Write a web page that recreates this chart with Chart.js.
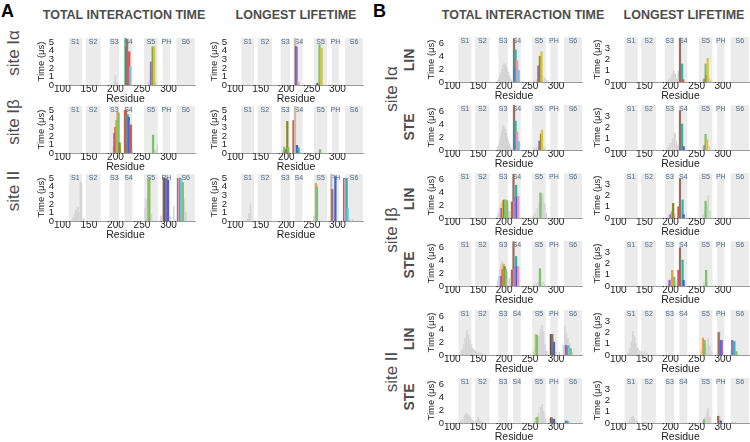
<!DOCTYPE html>
<html>
<head>
<meta charset="utf-8">
<script src="https://cdn.jsdelivr.net/npm/chart.js@4.4.0/dist/chart.umd.min.js"></script>
<style>
  body { margin: 0; width: 750px; height: 442px; overflow: hidden; background: #fff; position: relative;
         font-family: 'Liberation Sans', Arial, sans-serif; }
  canvas { position: absolute; }
  .t { position: absolute; color: #4d4d4d; white-space: nowrap; line-height: 1; }
  .hd { font-weight: bold; font-size: 12.5px; transform: translateX(-50%); }
  .site { font-size: 17px; transform: translate(-50%, -50%) rotate(-90deg); }
  .sub { font-size: 14px; font-weight: bold; transform: translate(-50%, -50%) rotate(-90deg); }
  .pl { font-size: 18px; font-weight: bold; color: #000; }
</style>
</head>
<body>
<div class="t pl" style="left:1px;top:2px">A</div>
<div class="t pl" style="left:373px;top:2px">B</div>
<div class="t hd" style="left:124px;top:9px">TOTAL INTERACTION TIME</div>
<div class="t hd" style="left:296px;top:9px">LONGEST LIFETIME</div>
<div class="t hd" style="left:523px;top:9px">TOTAL INTERACTION TIME</div>
<div class="t hd" style="left:684px;top:9px">LONGEST LIFETIME</div>

<div class="t site" style="left:13px;top:53px">site Iα</div>
<div class="t site" style="left:13px;top:122px">site Iβ</div>
<div class="t site" style="left:13px;top:191px">site II</div>

<div class="t site" style="left:391px;top:89px">site Iα</div>
<div class="t site" style="left:391px;top:230px">site Iβ</div>
<div class="t site" style="left:391px;top:372px">site II</div>
<div class="t sub" style="left:409px;top:60px">LIN</div>
<div class="t sub" style="left:409px;top:127px">STE</div>
<div class="t sub" style="left:409px;top:199px">LIN</div>
<div class="t sub" style="left:409px;top:265px">STE</div>
<div class="t sub" style="left:409px;top:339px">LIN</div>
<div class="t sub" style="left:409px;top:397px">STE</div>

<script>
// axis ticks and helix regions
const xTicks = [100, 150, 200, 250, 300];
const yTicksA = [0, 1, 2, 3, 4, 5];
const yTicksB1 = [0, 2, 4, 6];
const yTicksB2 = [0, 1, 2, 3];
const bands = [['S1', 112, 137], ['S2', 144, 172], ['S3', 189, 207], ['S4', 217, 232],
               ['S5', 254, 280], ['PH', 289, 303], ['S6', 315, 350]];

// lipid keys -> colour (bars are [residue, value, lipid])
const lipidColors = {
  r: '#d9534f', g: '#79c36a', b: '#4460d8', p: '#9068c0', c: '#2fb5a8', y: '#d8c43c',
  o: '#8a8a1e', n: '#e8a040', t: '#9a7060', k: '#cbbba9', i: '#e79aaa', l: '#6cc6e8',
  d: '#5a5a5a', m: '#c05aa0'
};

// ---- panel A, total interaction time ----
const A_tot_Ia_gray = [[198,0.4],[200,1.1],[203,0.3],[225,0.5],[262,0.3],[265,0.6],[276,0.3]];
const A_tot_Ia = [[219,5.5,'c'],[220,4.8,'g'],[221,4.5,'d'],[222,5.3,'t'],[226,3.9,'r'],[228,2.2,'l'],
                  [267,2.7,'p'],[270,4.5,'g'],[272,4.3,'o'],[273,4.5,'y']];
const A_tot_Ib_gray = [[196,0.8],[210,0.5],[232,0.4],[275,0.4],[279,1.0]];
const A_tot_Ib = [[198,2.3,'p'],[200,3.0,'r'],[202,3.8,'g'],[204,4.8,'n'],[206,4.7,'g'],[208,1.2,'o'],
                  [218,5.0,'r'],[220,5.0,'t'],[223,4.5,'c'],[225,4.2,'b'],[229,3.3,'r'],[271,2.1,'g']];
const A_tot_II_gray = [[120,0.4],[123,0.8],[125,1.3],[127,1.0],[129,1.6],[131,1.0],[134,4.6],[136,4.4],
                       [140,0.3],[256,1.5],[258,2.5],[268,0.8],[286,0.6],[303,0.5],[310,1.7],[330,2.5],[333,1.0]];
const A_tot_II = [[262,4.9,'n'],[264,5.0,'g'],[291,5.0,'t'],[293,5.0,'d'],[296,5.0,'p'],[299,4.8,'b'],
                  [318,5.0,'p'],[320,5.0,'i'],[322,5.0,'c'],[324,4.9,'l'],[327,4.5,'g']];

// ---- panel A, longest lifetime ----
const A_ll_Ia_gray = [[225,0.3],[262,0.2],[266,0.6]];
const A_ll_Ia = [[217,5.5,'k'],[219,4.5,'b'],[220,4.4,'p'],[223,0.3,'i'],[261,0.2,'d'],[265,4.7,'g'],[269,4.3,'y']];
const A_ll_Ib_gray = [[192,0.3],[226,0.2],[265,0.4]];
const A_ll_Ib = [[196,0.7,'g'],[199,0.4,'p'],[202,3.7,'o'],[204,0.6,'g'],[214,3.8,'r'],[217,5.5,'k'],
                 [221,0.9,'b'],[224,0.6,'c'],[266,0.4,'g']];
const A_ll_II_gray = [[124,0.2],[127,0.9],[130,1.9],[254,0.6],[324,0.2],[330,0.2]];
const A_ll_II = [[258,4.4,'n'],[260,4.0,'g'],[288,5.5,'k'],[290,3.7,'t'],[296,5.2,'b'],
                 [313,5.0,'p'],[315,4.9,'i'],[318,5.0,'c'],[320,1.5,'l']];

// ---- panel B, total interaction time ----
const B_tot_Ia_LIN_gray = [[188,0.3],[190,0.6],[192,1.0],[194,1.5],[196,2.0],[198,2.6],[200,2.9],[202,2.8],
                           [204,2.5],[206,2.0],[208,1.5],[210,1.0],[212,0.6],[214,0.3],[258,0.2],[262,0.4],
                           [266,0.7],[270,0.9],[274,1.0],[278,0.6],[282,0.3]];
const B_tot_Ia_LIN = [[219,6.7,'t'],[221,2.2,'b'],[222,5.0,'c'],[225,3.3,'i'],[228,1.8,'l'],
                      [266,2.5,'p'],[269,4.0,'o'],[272,4.7,'y']];
const B_tot_Ia_STE_gray = [[188,0.4],[190,0.8],[192,1.4],[194,2.2],[196,3.0],[198,3.8],[200,3.6],[202,3.2],
                           [204,2.6],[206,2.0],[208,1.4],[210,0.9],[212,0.5],[214,0.2],[258,0.2],[262,0.4],
                           [266,0.6],[270,0.8],[274,0.7],[278,0.4]];
const B_tot_Ia_STE = [[219,7.0,'t'],[221,2.6,'b'],[222,4.5,'c'],[225,2.8,'i'],[228,1.3,'l'],
                      [268,1.4,'p'],[271,2.5,'o'],[273,3.1,'y']];
const B_tot_Ib_LIN_gray = [[188,0.5],[190,1.0],[192,1.6],[194,2.2],[196,2.6],[198,2.7],[202,2.6],[206,2.0],
                           [210,1.0],[214,0.5],[256,0.3],[260,0.8],[264,1.5],[268,2.4],[272,3.4],[275,3.8],
                           [278,2.2],[281,0.8]];
const B_tot_Ib_LIN = [[195,1.5,'p'],[198,2.7,'n'],[200,2.8,'r'],[202,2.8,'g'],[204,2.7,'n'],[206,2.7,'g'],
                      [215,2.5,'r'],[218,6.8,'t'],[220,2.6,'i'],[222,3.2,'p'],[223,5.1,'c'],[225,3.2,'b'],
                      [227,3.4,'i'],[270,3.9,'g']];
const B_tot_Ib_STE_gray = [[188,0.8],[190,1.6],[192,2.6],[194,3.4],[196,3.8],[198,3.5],[202,3.0],[206,2.2],
                           [210,1.2],[214,0.5],[258,0.2],[262,0.4],[266,0.6],[270,0.8],[274,0.6],[278,0.3]];
const B_tot_Ib_STE = [[194,1.5,'p'],[197,2.6,'r'],[199,3.4,'n'],[201,3.0,'o'],[203,2.6,'g'],
                      [215,2.5,'r'],[218,6.9,'t'],[220,2.6,'i'],[222,3.1,'p'],[223,4.6,'c'],[225,3.0,'b'],
                      [227,3.0,'i'],[269,2.7,'g']];
const B_tot_II_LIN_gray = [[116,0.3],[119,0.8],[122,1.6],[125,2.6],[128,3.8],[131,3.2],[134,2.4],[137,1.6],
                           [140,1.0],[143,0.7],[146,0.5],[150,0.4],[154,0.3],[158,0.2],[256,0.5],[260,1.2],
                           [264,2.0],[267,3.0],[270,4.0],[273,4.6],[276,3.6],[279,1.6],[282,0.6],[300,0.4],
                           [306,0.5],[314,1.5],[317,4.5],[320,3.4],[323,2.6],[326,1.8],[329,1.0],[332,0.5]];
const B_tot_II_LIN = [[261,3.2,'y'],[263,3.1,'g'],[290,3.2,'d'],[293,3.2,'t'],[296,2.0,'b'],
                      [319,1.5,'p'],[321,1.0,'m'],[323,1.4,'c'],[325,1.2,'l'],[328,1.0,'g']];
const B_tot_II_STE_gray = [[116,0.2],[120,0.6],[124,1.2],[127,1.5],[130,1.4],[133,1.1],[136,0.7],[140,0.4],
                           [145,0.3],[150,0.9],[153,0.5],[158,0.2],[258,0.3],[262,0.8],[266,1.5],[270,2.4],
                           [273,2.9],[276,1.8],[279,0.6],[300,0.2],[316,0.3],[320,0.4],[326,0.2]];
const B_tot_II_STE = [[262,0.8,'y'],[264,0.9,'g'],[290,0.8,'d'],[292,0.8,'t'],[296,0.6,'b'],
                      [319,0.3,'p'],[322,0.3,'c']];

// ---- panel B, longest lifetime ----
const B_ll_Ia_LIN_gray = [[196,0.2],[200,0.4],[203,0.7],[206,1.0],[209,0.7],[212,0.3],[215,1.0],
                          [262,0.2],[266,0.3],[274,0.4],[277,0.2]];
const B_ll_Ia_LIN = [[218,3.9,'t'],[222,1.6,'c'],[224,0.2,'r'],[265,0.3,'p'],[267,1.6,'g'],[269,0.6,'o'],[271,2.1,'y']];
const B_ll_Ia_STE_gray = [[196,0.3],[200,0.6],[204,1.0],[208,1.5],[211,0.8],[214,0.4],[263,0.2],[266,0.3],[274,0.3]];
const B_ll_Ia_STE = [[218,3.5,'t'],[222,2.3,'c'],[225,0.3,'b'],[265,0.4,'p'],[267,1.4,'g'],[270,0.9,'y']];
const B_ll_Ib_LIN_gray = [[196,0.2],[200,0.5],[204,0.8],[208,0.4],[262,0.3],[266,0.6],[270,1.2],[272,2.0],[275,0.6]];
const B_ll_Ib_LIN = [[200,0.3,'p'],[203,0.6,'n'],[205,1.3,'o'],[215,1.0,'r'],[218,3.5,'t'],[223,1.6,'c'],
                     [225,0.3,'b'],[267,1.5,'g']];
const B_ll_Ib_STE_gray = [[196,0.3],[200,0.6],[204,1.0],[210,0.4],[264,0.3],[270,0.4]];
const B_ll_Ib_STE = [[198,0.5,'p'],[203,1.4,'n'],[207,0.8,'g'],[215,1.4,'r'],[218,3.4,'t'],[223,2.3,'c'],
                     [225,0.5,'b'],[268,1.4,'g']];
const B_ll_II_LIN_gray = [[118,0.2],[122,0.6],[125,1.2],[128,2.1],[131,1.6],[134,1.0],[137,0.6],[141,0.4],
                          [145,0.3],[150,0.3],[155,0.2],[258,0.3],[268,0.9],[272,1.5],[275,0.8],[279,0.3],
                          [294,2.1],[316,0.4],[322,0.3]];
const B_ll_II_LIN = [[262,1.5,'n'],[265,1.3,'g'],[292,2.0,'t'],[296,1.3,'b'],[298,1.3,'p'],
                     [318,1.3,'p'],[322,1.2,'c'],[326,0.3,'g']];
const B_ll_II_STE_gray = [[122,0.3],[126,0.5],[128,0.6],[131,0.4],[135,0.2],[150,0.1],[262,0.2],[266,0.5],
                          [270,1.0],[272,1.3],[275,0.5],[294,0.6],[318,0.1],[324,0.1]];
const B_ll_II_STE = [[264,0.3,'g'],[291,0.6,'t'],[296,0.2,'b']];

// shaded helix regions with their labels
const bandPlugin = {
  id: 'bands',
  beforeDatasetsDraw(chart) {
    const { ctx, chartArea: a, scales: { x } } = chart;
    ctx.save();
    bands.forEach(([name, s, e]) => {
      const x0 = x.getPixelForValue(s);
      const x1 = Math.min(x.getPixelForValue(e), a.right);
      ctx.fillStyle = '#ebebeb';
      ctx.fillRect(x0, a.top, x1 - x0, a.bottom - a.top);
      ctx.fillStyle = '#4d6a84';
      ctx.font = '7px "Liberation Sans", Arial, sans-serif';
      ctx.textAlign = 'center';
      ctx.textBaseline = 'middle';
      ctx.fillText(name, (x0 + x1) / 2, a.top + 4.5);
    });
    ctx.restore();
  }
};

function plot(left, top, w, h, ymax, yTicks, gray, lip) {
  const ml = 20, mt = 8, mr = 2, mb = 20;
  const cv = document.createElement('canvas');
  cv.width = w + ml + mr;
  cv.height = h + mt + mb;
  cv.style.left = (left - ml) + 'px';
  cv.style.top = (top - mt) + 'px';
  document.body.appendChild(cv);

  new Chart(cv, {
    type: 'bar',
    data: {
      datasets: [
        {
          data: lip.map(d => ({ x: d[0], y: d[1] })),
          backgroundColor: lip.map(d => lipidColors[d[2]]),
          barThickness: 1.6, grouped: false, order: 0
        },
        {
          data: gray.map(d => ({ x: d[0], y: d[1] })),
          backgroundColor: '#d4d4d4',
          barThickness: 1, grouped: false, order: 1
        }
      ]
    },
    options: {
      responsive: false,
      animation: false,
      events: [],
      layout: { padding: { top: mt, right: mr, left: 0, bottom: 0 } },
      plugins: { legend: { display: false }, tooltip: { enabled: false } },
      scales: {
        x: {
          type: 'linear', min: 88, max: 350, offset: false,
          afterBuildTicks: s => { s.ticks = xTicks.map(v => ({ value: v })); },
          afterFit: s => { s.height = mb; },
          grid: { display: false, drawTicks: false },
          border: { display: true, color: '#9a9a9a' },
          ticks: { padding: -2, autoSkip: false, maxRotation: 0, color: '#222', font: { size: 10 } },
          title: { display: true, text: 'Residue', padding: 0, color: '#222', font: { size: 10.5 } }
        },
        y: {
          min: 0, max: ymax,
          afterBuildTicks: s => { s.ticks = yTicks.map(v => ({ value: v })); },
          afterFit: s => { s.width = ml; },
          grid: { display: false, drawTicks: false },
          border: { display: false },
          ticks: { padding: 2, autoSkip: false, color: '#222', font: { size: 9.5 } },
          title: { display: true, text: 'Time (\u03bcs)', padding: 0, color: '#222', font: { size: 9.5 } }
        }
      }
    },
    plugins: [bandPlugin]
  });
}

// panel A
const aTops = [38, 106, 174];
plot(56, aTops[0], 139, 47, 5.5, yTicksA, A_tot_Ia_gray, A_tot_Ia);
plot(56, aTops[1], 139, 47, 5.5, yTicksA, A_tot_Ib_gray, A_tot_Ib);
plot(56, aTops[2], 139, 47, 5.5, yTicksA, A_tot_II_gray, A_tot_II);
plot(229, aTops[0], 134, 47, 5.5, yTicksA, A_ll_Ia_gray, A_ll_Ia);
plot(229, aTops[1], 134, 47, 5.5, yTicksA, A_ll_Ib_gray, A_ll_Ib);
plot(229, aTops[2], 134, 47, 5.5, yTicksA, A_ll_II_gray, A_ll_II);

// panel B
const bTops = [37, 105, 173, 241, 310, 378];
plot(446, bTops[0], 136, 45, 7, yTicksB1, B_tot_Ia_LIN_gray, B_tot_Ia_LIN);
plot(446, bTops[1], 136, 45, 7, yTicksB1, B_tot_Ia_STE_gray, B_tot_Ia_STE);
plot(446, bTops[2], 136, 45, 7, yTicksB1, B_tot_Ib_LIN_gray, B_tot_Ib_LIN);
plot(446, bTops[3], 136, 45, 7, yTicksB1, B_tot_Ib_STE_gray, B_tot_Ib_STE);
plot(446, bTops[4], 136, 45, 7, yTicksB1, B_tot_II_LIN_gray, B_tot_II_LIN);
plot(446, bTops[5], 136, 45, 7, yTicksB1, B_tot_II_STE_gray, B_tot_II_STE);
plot(612, bTops[0], 137, 45, 4, yTicksB2, B_ll_Ia_LIN_gray, B_ll_Ia_LIN);
plot(612, bTops[1], 137, 45, 4, yTicksB2, B_ll_Ia_STE_gray, B_ll_Ia_STE);
plot(612, bTops[2], 137, 45, 4, yTicksB2, B_ll_Ib_LIN_gray, B_ll_Ib_LIN);
plot(612, bTops[3], 137, 45, 4, yTicksB2, B_ll_Ib_STE_gray, B_ll_Ib_STE);
plot(612, bTops[4], 137, 45, 4, yTicksB2, B_ll_II_LIN_gray, B_ll_II_LIN);
plot(612, bTops[5], 137, 45, 4, yTicksB2, B_ll_II_STE_gray, B_ll_II_STE);
</script>
</body>
</html>
